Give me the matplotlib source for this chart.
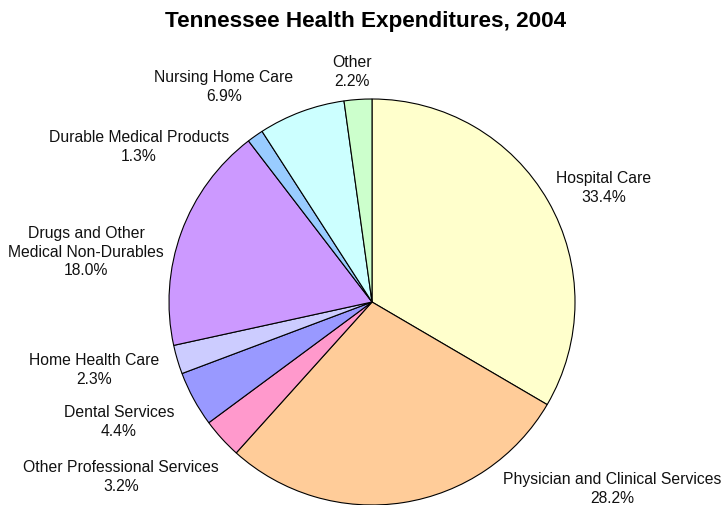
#!/usr/bin/env python3

from matplotlib import pyplot as plt

plt.rcParams['font.family'] = ['Liberation Sans', 'DejaVu Sans']

# 支出区分と割合 (%)
categories = [
    'Hospital Care',
    'Physician and Clinical Services',
    'Other Professional Services',
    'Dental Services',
    'Home Health Care',
    'Drugs and Other\nMedical Non-Durables',
    'Durable Medical Products',
    'Nursing Home Care',
    'Other',
]
shares = [33.4, 28.2, 3.2, 4.4, 2.3, 18.0, 1.3, 6.9, 2.2]

colors = ['#FFFFCC', '#FFCC99', '#FF99CC', '#9999FF', '#CCCCFF',
          '#CC99FF', '#99CCFF', '#CCFFFF', '#CCFFCC']

# ラベルの配置 (円の半径を 1 とした座標)
label_pos = [
    (1.140, 0.567),
    (1.182, -0.916),
    (-1.236, -0.857),
    (-1.246, -0.586),
    (-1.369, -0.330),
    (-1.409, 0.251),
    (-1.148, 0.768),
    (-0.729, 1.064),
    (-0.099, 1.138),
]

W, H = 723, 506
cx, cy, r = 372, 303, 203

fig = plt.figure(figsize=(W / 100, H / 100), dpi=100)
ax = fig.add_axes([0, 0, 1, 1])

ax.pie(shares, colors=colors, startangle=90, counterclock=False,
       wedgeprops=dict(edgecolor='black', linewidth=0.8))

# 円の中心と半径をピクセル位置に合わせる
ax.set_xlim(-cx / r, (W - cx) / r)
ax.set_ylim(-(H - cy) / r, cy / r)
ax.set_aspect('equal', adjustable='datalim')
ax.axis('off')

for name, val, (x, y) in zip(categories, shares, label_pos):
    ax.text(x, y, f'{name}\n{val:.1f}%', ha='center', va='center',
            fontsize=11.3, linespacing=1.32, color='#111111')

fig.text(0.506, 1 - 21 / H, 'Tennessee Health Expenditures, 2004',
         ha='center', va='center', fontsize=16.2, fontweight='bold')

plt.savefig('out.png', dpi=100)
